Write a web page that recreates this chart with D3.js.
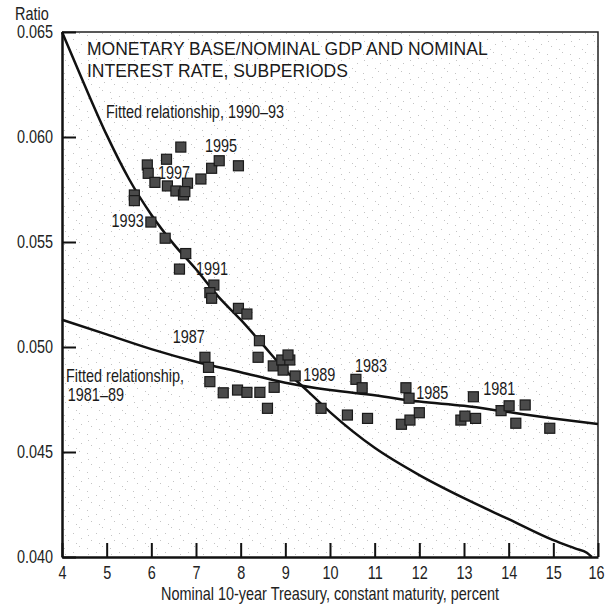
<!DOCTYPE html>
<html>
<head>
<meta charset="utf-8">
<script src="https://cdn.jsdelivr.net/npm/d3@7/dist/d3.min.js"></script>
<style>
  body { margin: 0; background: #fff; }
  svg text { font-family: "Liberation Sans", Arial, sans-serif; }
</style>
</head>
<body>
<div id="chart"></div>
<script>
// Scatter points: nominal 10-year Treasury rate (x) vs monetary base / nominal GDP (y)
const pointRates = [
    6.66, 6.34, 5.91, 5.93, 6.08, 6.36, 6.55, 6.72, 6.81, 6.75, 7.11, 7.35, 7.52, 7.95,
    5.62, 5.62, 5.99, 6.31, 6.77, 6.63, 7.40, 7.31, 7.35, 7.95, 8.14, 8.42, 8.39,
    8.73, 8.92, 9.10, 9.06, 8.95, 9.22,
    7.20, 7.28, 7.31, 7.61, 7.93, 8.14, 8.43, 8.75, 8.60, 9.80,
    10.58, 10.72, 11.70, 11.77, 10.39, 10.84, 11.60, 11.79, 12.00,
    13.21, 12.93, 13.02, 13.26, 13.83, 14.01, 14.37, 14.16, 14.92
];
const pointRatios = [
    0.05952, 0.05894, 0.05867, 0.05827, 0.05784, 0.05767, 0.05743, 0.05724, 0.05780, 0.05740, 0.05800, 0.05851, 0.05887, 0.05863,
    0.05724, 0.05697, 0.05595, 0.05518, 0.05445, 0.05371, 0.05295, 0.05259, 0.05232, 0.05184, 0.05157, 0.05030, 0.04951,
    0.04910, 0.04938, 0.04938, 0.04962, 0.04890, 0.04862,
    0.04951, 0.04903, 0.04835, 0.04782, 0.04795, 0.04784, 0.04784, 0.04808, 0.04708, 0.04708,
    0.04846, 0.04806, 0.04806, 0.04756, 0.04676, 0.04660, 0.04632, 0.04652, 0.04687,
    0.04763, 0.04652, 0.04671, 0.04660, 0.04697, 0.04720, 0.04724, 0.04637, 0.04613
];

// Fitted relationship 1990-93
const fit90Rates = [4.0, 4.5, 5.0, 5.5, 6.0, 6.5, 7.0, 7.5, 8.0, 8.5, 9.0, 9.5, 10, 11, 12, 13, 14, 15, 15.5, 15.75, 15.86];
const fit90Ratios = [0.0650, 0.0625, 0.0601, 0.0580, 0.0563, 0.0549, 0.0537, 0.0524, 0.0513, 0.0501, 0.0489, 0.0479, 0.0469, 0.0452, 0.0439, 0.0428, 0.0418, 0.0408, 0.0404, 0.0402, 0.0400];

// Fitted relationship 1981-89
const fit80Rates = [4, 5, 6, 7, 8, 9, 10, 11, 12, 13, 14, 15, 16];
const fit80Ratios = [0.0513, 0.0506, 0.0499, 0.0493, 0.0488, 0.0483, 0.04795, 0.0477, 0.0474, 0.0472, 0.0469, 0.0466, 0.04633];

// Year labels and where they sit (left edge, baseline) in data units
const yearLabels = ["1995", "1997", "1993", "1991", "1987", "1989", "1983", "1985", "1981"];
const yearRates = [7.20, 6.15, 5.11, 7.00, 6.48, 9.40, 10.56, 11.93, 13.43];
const yearRatios = [0.0593, 0.0580, 0.05573, 0.05343, 0.0502, 0.04838, 0.04882, 0.04752, 0.04771];

const xTicks = [4, 5, 6, 7, 8, 9, 10, 11, 12, 13, 14, 15, 16];
const yTicks = [0.040, 0.045, 0.050, 0.055, 0.060, 0.065];

const titleLines = ["MONETARY BASE/NOMINAL GDP AND NOMINAL", "INTEREST RATE, SUBPERIODS"];

const margin = { top: 32, right: 10, bottom: 47, left: 62 };
const width = 608 - margin.left - margin.right;
const height = 604 - margin.top - margin.bottom;
const fontSize = "18.5px";

// squeeze text horizontally to mimic the condensed typeface of the original
function condense(sel, k = 0.78) {
    sel.each(function () {
        const len = this.getComputedTextLength();
        d3.select(this)
            .attr("textLength", len * k)
            .attr("lengthAdjust", "spacingAndGlyphs");
    });
}

const svgRoot = d3.select("#chart")
    .append("svg")
    .attr("width", 608)
    .attr("height", 604);

// light stipple texture like the printed original
const defs = svgRoot.append("defs");
const stipple = defs.append("pattern")
    .attr("id", "stipple")
    .attr("width", 23)
    .attr("height", 19)
    .attr("patternUnits", "userSpaceOnUse");
[[2, 3], [11, 7], [17, 1], [6, 14], [19, 12], [14, 17], [3, 9]].forEach(p => {
    stipple.append("rect")
        .attr("x", p[0]).attr("y", p[1])
        .attr("width", 1).attr("height", 1)
        .attr("fill", "#c4c4c4");
});

const svg = svgRoot.append("g")
    .attr("transform", `translate(${margin.left}, ${margin.top})`);

const x = d3.scaleLinear().domain([4, 16]).range([0, width]);
const y = d3.scaleLinear().domain([0.040, 0.065]).range([height, 0]);

svg.append("rect")
    .attr("width", width)
    .attr("height", height)
    .attr("fill", "url(#stipple)");

// top and right frame
svg.append("path")
    .attr("d", `M0,0H${width}V${height}`)
    .attr("fill", "none")
    .attr("stroke", "#222")
    .attr("stroke-width", 1.5);

// x axis, ticks pointing inward
const xAxis = svg.append("g")
    .attr("class", "x-axis")
    .attr("transform", `translate(0, ${height})`)
    .call(d3.axisBottom(x).tickValues(xTicks).tickSizeInner(-14).tickSizeOuter(0).tickPadding(9).tickFormat(d3.format("d")));

// y axis, ticks pointing inward
const yAxis = svg.append("g")
    .attr("class", "y-axis")
    .call(d3.axisLeft(y).tickValues(yTicks).tickSizeInner(-14).tickSizeOuter(0).tickPadding(9).tickFormat(d3.format(".3f")));

[xAxis, yAxis].forEach(g => {
    g.attr("font-family", null);
    g.select(".domain").attr("stroke", "#111").attr("stroke-width", 2.5);
    g.selectAll(".tick line").attr("stroke", "#111").attr("stroke-width", 2);
    g.selectAll(".tick text")
        .attr("fill", "#222")
        .style("font-size", fontSize)
        .call(condense);
});
// keep the last x label inside the picture
xAxis.selectAll(".tick text").filter(d => d === 16).attr("dx", "-2");

// Axis titles
svgRoot.append("text")
    .attr("x", 15)
    .attr("y", 20)
    .style("font-size", fontSize)
    .attr("fill", "#222")
    .text("Ratio")
    .call(condense);

svgRoot.append("text")
    .attr("x", margin.left + width / 2)
    .attr("y", 600)
    .attr("text-anchor", "middle")
    .style("font-size", fontSize)
    .attr("fill", "#222")
    .text("Nominal 10-year Treasury, constant maturity, percent")
    .call(condense);

// Chart title inside the plot
svg.append("text")
    .attr("x", 25)
    .attr("y", 23)
    .style("font-size", "17.5px")
    .attr("fill", "#1a1a1a")
    .selectAll("tspan")
    .data(titleLines)
    .join("tspan")
    .attr("x", 25)
    .attr("dy", (d, i) => i === 0 ? 0 : 22)
    .text(d => d);

// Fitted curve labels
svg.append("text")
    .attr("x", x(4.985))
    .attr("y", y(0.0609))
    .style("font-size", fontSize)
    .attr("fill", "#1a1a1a")
    .text("Fitted relationship, 1990–93")
    .call(condense);

svg.selectAll(".fit80-label")
    .data(["Fitted relationship,", "1981–89"])
    .join("text")
    .attr("class", "fit80-label")
    .attr("x", (d, i) => i === 0 ? x(4.09) : x(4.13))
    .attr("y", (d, i) => i === 0 ? y(0.04833) : y(0.04743))
    .style("font-size", fontSize)
    .attr("fill", "#1a1a1a")
    .text(d => d)
    .call(condense);

// Year labels
svg.selectAll(".year-label")
    .data(yearLabels)
    .join("text")
    .attr("class", "year-label")
    .attr("x", (d, i) => x(yearRates[i]))
    .attr("y", (d, i) => y(yearRatios[i]))
    .style("font-size", fontSize)
    .attr("fill", "#1a1a1a")
    .text(d => d)
    .call(condense);

// Fitted lines
const line = d3.line()
    .x(d => x(d[0]))
    .y(d => y(d[1]))
    .curve(d3.curveMonotoneX);

svg.append("path")
    .datum(d3.zip(fit80Rates, fit80Ratios))
    .attr("fill", "none")
    .attr("stroke", "#111")
    .attr("stroke-width", 2.5)
    .attr("d", line);

svg.append("path")
    .datum(d3.zip(fit90Rates, fit90Ratios))
    .attr("fill", "none")
    .attr("stroke", "#111")
    .attr("stroke-width", 2.5)
    .attr("d", line);

// Scatter squares
const size = 10;
svg.selectAll(".point")
    .data(d3.zip(pointRates, pointRatios))
    .join("rect")
    .attr("class", "point")
    .attr("x", d => x(d[0]) - size / 2)
    .attr("y", d => y(d[1]) - size / 2)
    .attr("width", size)
    .attr("height", size)
    .attr("fill", "#4a4a4a")
    .attr("stroke", "#1a1a1a")
    .attr("stroke-width", 1.2);
</script>
</body>
</html>
